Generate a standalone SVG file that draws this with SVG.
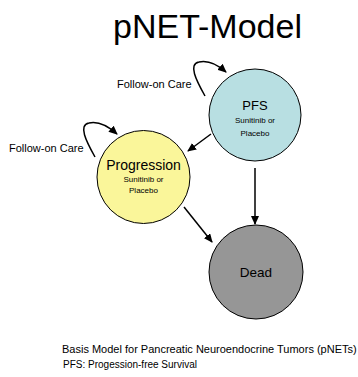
<svg xmlns="http://www.w3.org/2000/svg" width="358" height="377" viewBox="0 0 358 377">
<defs>
<style>
text{font-family:"Liberation Sans",Arial,sans-serif;fill:#000}
.node{stroke:#000;stroke-width:1}
.c{text-anchor:middle}
.edge{fill:none;stroke:#000;stroke-width:1.5;marker-end:url(#ah)}
</style>
<marker id="ah" markerUnits="userSpaceOnUse" markerWidth="9" markerHeight="8" refX="8" refY="4" orient="auto" viewBox="0 0 9 8">
<path d="M0,0 L9,4 L0,8 Z" fill="#000"/>
</marker>
</defs>
<rect width="358" height="377" fill="#fff"/>
<text x="113" y="38" font-size="34">pNET-Model</text>
<g id="connectors">
<path class="edge" d="M205,96 C196,80 188,64 199,62 C208,60 218,65 226,72"/>
<path class="edge" d="M95,157 C86,141 78,125 89,123 C98,121 108,126 117,134"/>
<path class="edge" d="M211,134 L188,151"/>
<path class="edge" d="M255,168 L255,224"/>
<path class="edge" d="M184,207 L212,242"/>
</g>
<g id="pfs">
<circle class="node" cx="255" cy="115" r="46" fill="#B8DFE2"/>
<text class="c" x="255" y="110" font-size="13">PFS</text>
<text class="c" x="255" y="123" font-size="8">Sunitinib or</text>
<text class="c" x="255" y="136" font-size="8">Placebo</text>
</g>
<g id="progression">
<circle class="node" cx="143.5" cy="177" r="46.5" fill="#FAF69A"/>
<text class="c" x="143.5" y="170" font-size="14">Progression</text>
<text class="c" x="143.5" y="182" font-size="8">Sunitinib or</text>
<text class="c" x="143.5" y="193" font-size="8">Placebo</text>
</g>
<g id="dead">
<circle class="node" cx="256" cy="272" r="47" fill="#969696"/>
<text class="c" x="256" y="277" font-size="13.5">Dead</text>
</g>
<g id="labels">
<text x="117" y="88" font-size="11">Follow-on Care</text>
<text x="9" y="152" font-size="11">Follow-on Care</text>
<text x="62" y="353" font-size="11">Basis Model for Pancreatic Neuroendocrine Tumors (pNETs)</text>
<text x="63" y="368" font-size="10">PFS: Progession-free Survival</text>
</g>
</svg>
